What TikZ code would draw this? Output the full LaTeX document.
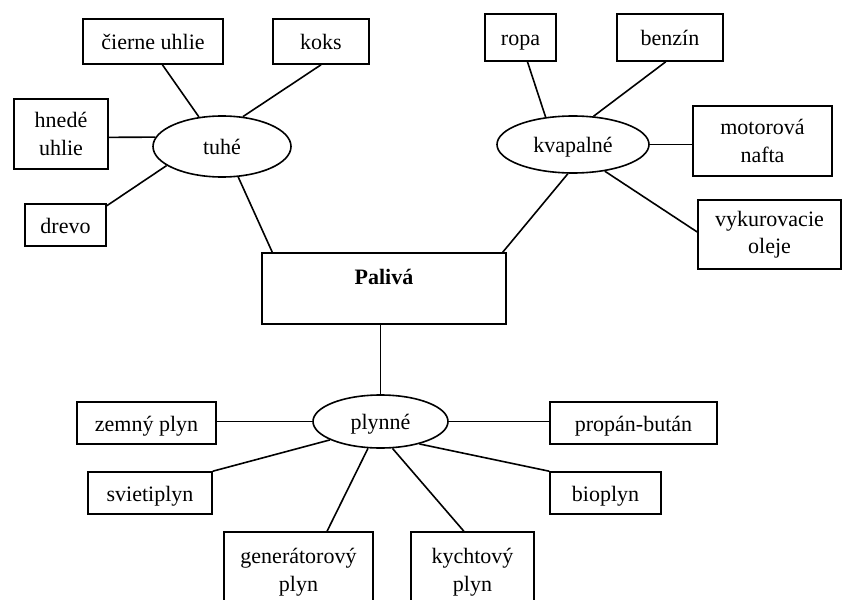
\documentclass[tikz,border=0pt]{standalone}
\usepackage{fontspec}
\setmainfont{Liberation Serif}
\usetikzlibrary{shapes.geometric}
\begin{document}
\begin{tikzpicture}[x=1pt,y=-1pt,
  box/.style={draw,line width=1.6pt,inner sep=0pt,align=center,font=\fontsize{22}{27.5}\selectfont},
  oval/.style={draw,ellipse,line width=1.6pt,inner sep=0pt,font=\fontsize{22}{27.5}\selectfont},
  one/.style={text height=18pt,text depth=2pt},
  link/.style={line width=1.6pt}]
\useasboundingbox (0,0) rectangle (842,599);
\clip (0,0) rectangle (842,599);
% center
\node[box,minimum width=244pt,minimum height=71pt,text height=16pt,text depth=25pt,font=\fontsize{22}{27.5}\selectfont\bfseries] (paliva) at (384,288.5) {Palivá};
% solid
\node[oval,one,minimum width=138pt,minimum height=61pt] (tuhe) at (222,146.5) {tuhé};
\node[box,one,minimum width=140pt,minimum height=45pt] (cierne) at (153,41.5) {čierne uhlie};
\node[box,one,minimum width=96pt,minimum height=45pt] (koks) at (321,41.5) {koks};
\node[box,minimum width=94pt,minimum height=70pt] (hnede) at (61,134) {hnedé\\uhlie};
\node[box,one,minimum width=81pt,minimum height=42pt] (drevo) at (65.5,225) {drevo};
% liquid
\node[oval,one,minimum width=152pt,minimum height=57pt] (kvap) at (573,144.5) {kvapalné};
\node[box,one,minimum width=71pt,minimum height=47pt] (ropa) at (520.5,37.5) {ropa};
\node[box,one,minimum width=106pt,minimum height=47pt] (benzin) at (670,37.5) {benzín};
\node[box,minimum width=139pt,minimum height=70pt] (motor) at (762.5,141) {motorová\\nafta};
\node[box,minimum width=143pt,minimum height=69pt] (vykur) at (769.5,234.5) {vykurovacie\\oleje};
% gas
\node[oval,one,minimum width=135pt,minimum height=53pt] (plyn) at (380.5,421.5) {plynné};
\node[box,one,minimum width=139pt,minimum height=42pt] (zemny) at (146.5,423) {zemný plyn};
\node[box,one,minimum width=124pt,minimum height=42pt] (sviet) at (150,493) {svietiplyn};
\node[box,minimum width=149pt,minimum height=80pt] (gener) at (298.5,572) {generátorový\\plyn};
\node[box,minimum width=123pt,minimum height=80pt] (kycht) at (472.5,572) {kychtový\\plyn};
\node[box,one,minimum width=167pt,minimum height=42pt] (propan) at (633.5,423) {propán-bután};
\node[box,one,minimum width=111pt,minimum height=42pt] (bio) at (605.5,493) {bioplyn};
% connectors
\draw[link] (tuhe.128) -- (cierne.-68);
\draw[link] (tuhe.55) -- (koks.south);
\draw[link] (tuhe.172) -- (hnede.-4);
\draw[link] (tuhe.199) -- (drevo.25);
\draw[link] (tuhe.-62) -- (paliva.162);
\draw[link] (kvap.135) -- (ropa.-74);
\draw[link] (kvap.54) -- (benzin.-100);
\draw[link] (kvap.east) -- (kvap.east -| motor.west);
\draw[link] (kvap.-40) -- (vykur.178);
\draw[link] (kvap.-100) -- (paliva.17);
\draw[link] (paliva.south -| plyn.north) -- (plyn.north);
\draw[link] (plyn.west) -- (plyn.west -| zemny.east);
\draw[link] (plyn.200) -- (sviet.north east);
\draw[link] (plyn.-115) -- (gener.55);
\draw[link] (plyn.-66) -- (kycht.102);
\draw[link] (plyn.east) -- (plyn.east -| propan.west);
\draw[link] (plyn.-30) -- (bio.north west);
\end{tikzpicture}
\end{document}
